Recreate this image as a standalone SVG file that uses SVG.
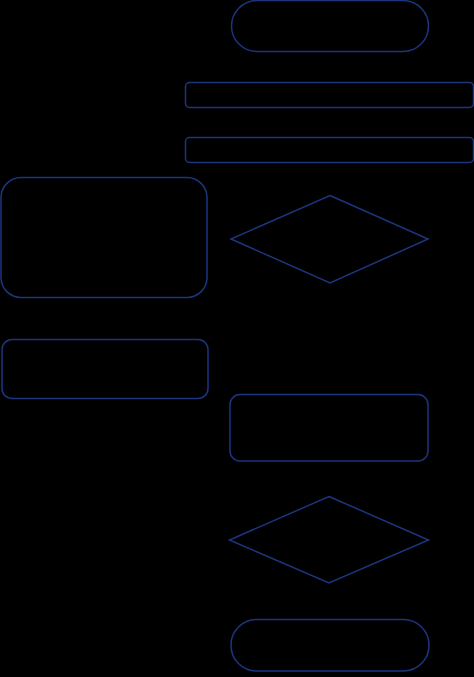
<svg xmlns="http://www.w3.org/2000/svg" width="474" height="677" viewBox="0 0 474 677">
<style>
.s{fill:#000;stroke:#1c3580;stroke-width:1.5}
</style>
<rect x="0" y="0" width="474" height="677" fill="#000"/>
<g id="connectors"></g>
<g id="n1"><rect class="s" x="231.5" y="0.5" width="197" height="51" rx="25.5"/></g>
<g id="n2"><rect class="s" x="185.5" y="82.5" width="288" height="25" rx="4"/></g>
<g id="n3"><rect class="s" x="185.5" y="137.5" width="288" height="25" rx="4"/></g>
<g id="n4"><rect class="s" x="1" y="177.5" width="206" height="120" rx="20"/></g>
<g id="n5"><polygon class="s" points="330,195.5 428,239 330,283 231,239"/></g>
<g id="n6"><rect class="s" x="2" y="339.5" width="206" height="59" rx="10"/></g>
<g id="n7"><rect class="s" x="230" y="394.5" width="198" height="66.5" rx="10"/></g>
<g id="n8"><polygon class="s" points="329,496.5 428.5,540 329,583 229.5,540"/></g>
<g id="n9"><rect class="s" x="231" y="619.5" width="198" height="51.5" rx="25.5"/></g>
</svg>
